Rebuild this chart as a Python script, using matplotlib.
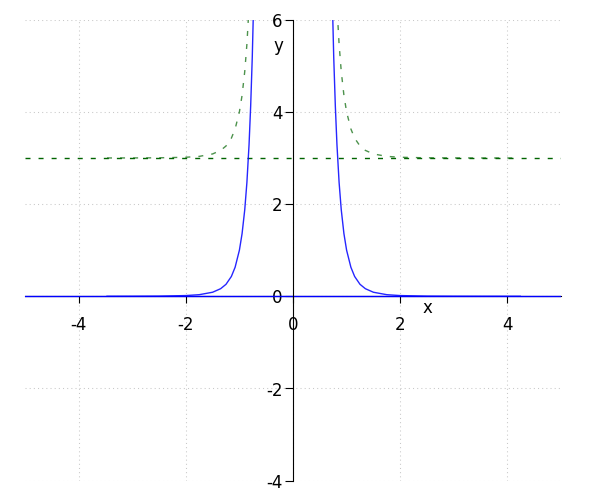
import matplotlib
matplotlib.use('Agg')
import matplotlib.pyplot as plt

# values
x_left = [-3.47, -3.0, -2.5, -2.0, -1.75, -1.5, -1.35, -1.25, -1.15, -1.08, -1.0,
          -0.95, -0.9, -0.86, -0.82, -0.79, -0.76, -0.73, -0.7]
x_right = [0.7, 0.73, 0.76, 0.79, 0.82, 0.86, 0.9, 0.95, 1.0, 1.08, 1.15, 1.25,
           1.35, 1.5, 1.75, 2.0, 2.5, 3.0, 3.5, 4.24]

blue_left = [0.0006, 0.0014, 0.004, 0.016, 0.035, 0.088, 0.165, 0.26, 0.43, 0.63, 1.0,
             1.36, 1.88, 2.47, 3.29, 4.12, 5.18, 6.6, 8.5]
blue_right = [8.5, 6.6, 5.18, 4.12, 3.29, 2.47, 1.88, 1.36, 1.0, 0.63, 0.43, 0.26,
              0.165, 0.088, 0.035, 0.016, 0.004, 0.0014, 0.0005, 0.0002]

green_left = [3.0006, 3.0014, 3.004, 3.016, 3.035, 3.088, 3.165, 3.26, 3.43, 3.63, 4.0,
              4.36, 4.88, 5.47, 6.29, 7.12, 8.18, 9.6, 11.5]
green_right = [11.5, 9.6, 8.18, 7.12, 6.29, 5.47, 4.88, 4.36, 4.0, 3.63, 3.43, 3.26,
               3.165, 3.088, 3.035, 3.016, 3.004, 3.0014, 3.0005, 3.0002]

asym_x = [-5, 5]
blue_asym = [0, 0]
green_asym = [3, 3]

x_ticks = [-4, -2, 0, 2, 4]
y_ticks = [-4, -2, 0, 2, 4, 6]

fig = plt.figure(figsize=(6, 5), dpi=100)
ax = fig.add_axes([25 / 600, 19.3 / 500, 536 / 600, 461 / 500])

dash = (0, (3.6, 5.8))
ax.plot(asym_x, blue_asym, color='blue', lw=1.0, zorder=3)
ax.plot(asym_x, green_asym, color='darkgreen', lw=1.0, ls=dash, zorder=3)

ax.plot(x_left, blue_left, color='blue', lw=1.0, alpha=0.85, zorder=4)
ax.plot(x_right, blue_right, color='blue', lw=1.0, alpha=0.85, zorder=4)
ax.plot(x_left, green_left, color='darkgreen', lw=1.0, alpha=0.7, ls=dash, zorder=4)
ax.plot(x_right, green_right, color='darkgreen', lw=1.0, alpha=0.7, ls=dash, zorder=4)

ax.set_xlim(-5, 5)
ax.set_ylim(-4, 6)

# axes through the origin
ax.spines['left'].set_position(('data', 0))
ax.spines['bottom'].set_position(('data', 0))
ax.spines['right'].set_visible(False)
ax.spines['top'].set_visible(False)
ax.spines['left'].set_zorder(5)
ax.spines['bottom'].set_zorder(2)

ax.set_xticks(x_ticks)
ax.set_xticklabels([str(t) for t in x_ticks])
ax.set_yticks(y_ticks)
ax.set_yticklabels([str(t) for t in y_ticks])
ax.tick_params(axis='x', direction='out', length=5, pad=9, labelsize=12)
ax.tick_params(axis='y', direction='out', length=5.5, pad=2, labelsize=12)

ax.grid(True, color='#c8c8c8', ls=(0, (1, 3)), lw=0.75)

ax.text(2.5, -0.26, 'x', fontsize=12, ha='center', va='center')
ax.text(-0.28, 5.44, 'y', fontsize=12, ha='center', va='center')

fig.savefig('out.png', dpi=100)
